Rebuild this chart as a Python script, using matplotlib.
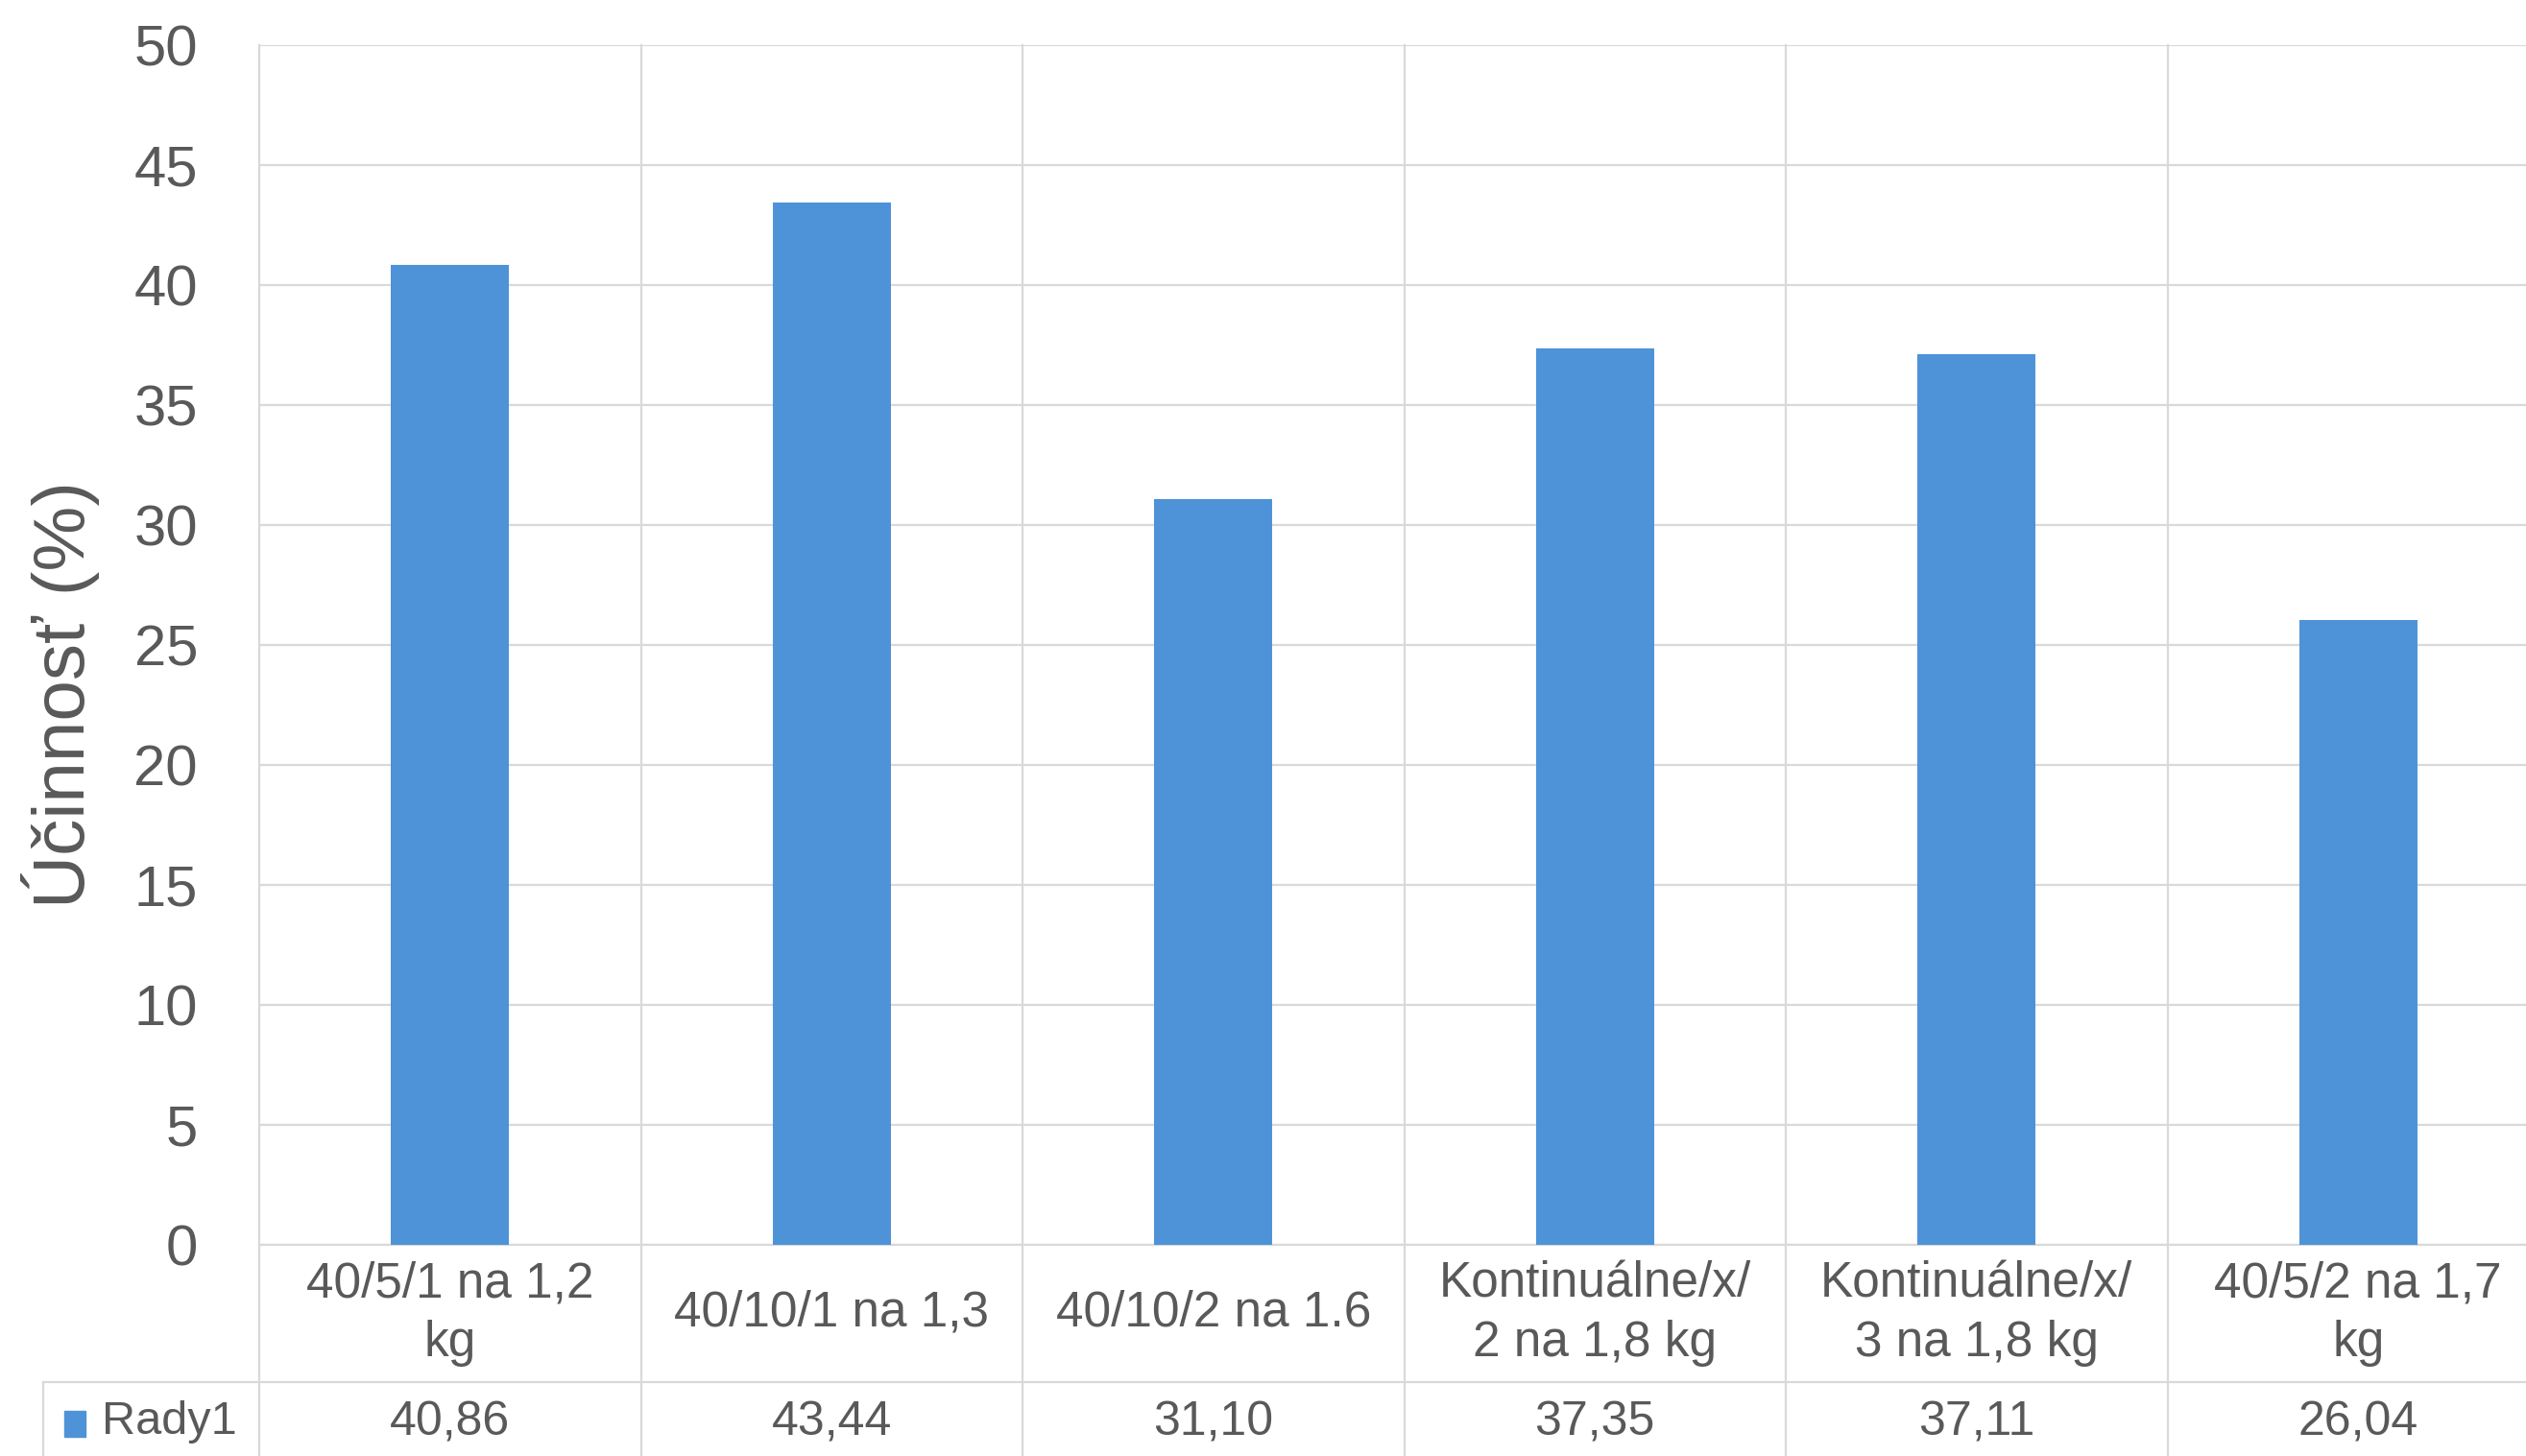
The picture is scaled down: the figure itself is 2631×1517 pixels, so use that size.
import matplotlib
matplotlib.use('Agg')
import matplotlib.pyplot as plt
import matplotlib.transforms as mtransforms
from matplotlib import font_manager
from matplotlib.patches import Rectangle

# dáta grafu
kategorie = ['40/5/1 na 1,2\nkg', '40/10/1 na 1,3', '40/10/2 na 1.6',
             'Kontinuálne/x/\n2 na 1,8 kg', 'Kontinuálne/x/\n3 na 1,8 kg', '40/5/2 na 1,7\nkg']
ucinnost = [40.86, 43.44, 31.10, 37.35, 37.11, 26.04]
nazov_radu = 'Rady1'
y_ticky = [0, 5, 10, 15, 20, 25, 30, 35, 40, 45, 50]

FARBA_STLPEC = '#4E93D8'
FARBA_MRIEZKA = '#D9D9D9'
FARBA_TEXT = '#595959'

names = {f.name for f in font_manager.fontManager.ttflist}
TAB_FONT = 'Liberation Sans Narrow' if 'Liberation Sans Narrow' in names else 'Liberation Sans'
plt.rcParams['font.family'] = ['Liberation Sans', 'DejaVu Sans']

W, H = 2631, 1517
fig = plt.figure(figsize=(W / 100, H / 100), dpi=100)
fig.patch.set_facecolor('white')

left_px, top_px, zero_px, col_px = 270, 47, 1297, 397.5
ax = fig.add_axes([left_px / W, (H - zero_px) / H, 6 * col_px / W, (zero_px - top_px) / H])

x = list(range(len(kategorie)))
ax.bar(x, ucinnost, width=0.31, color=FARBA_STLPEC, zorder=3)

ax.set_xlim(-0.5, len(kategorie) - 0.5)
ax.set_ylim(0, 50)
ax.set_yticks(y_ticky)
ax.set_xticks([])
ax.tick_params(axis='y', length=0, pad=46, labelsize=43, labelcolor=FARBA_TEXT)
for s in ax.spines.values():
    s.set_visible(False)
ax.yaxis.grid(True, color=FARBA_MRIEZKA, linewidth=1.6, zorder=0)
ax.set_axisbelow(True)
ax.set_ylabel('Účinnosť (%)', fontsize=55, color=FARBA_TEXT)
ax.yaxis.set_label_coords(-(270 - 104) / (6 * col_px), 0.459)

# tabuľka údajov pod grafom
tr = mtransforms.blended_transform_factory(ax.transData, ax.transAxes)
px = 1.0 / (zero_px - top_px)
y_cat_bot = -(1440 - zero_px) * px
y_ser_mid = -(1482 - zero_px) * px
y_tab_bot = -0.25
x_leg = -0.5 - (left_px - 45) / col_px

lk = dict(color=FARBA_MRIEZKA, linewidth=1.6, transform=tr, clip_on=False, zorder=1)
for i in range(len(kategorie) + 1):
    ax.plot([i - 0.5, i - 0.5], [1, y_tab_bot], **lk)
ax.plot([-0.5, len(kategorie) - 0.5], [0, 0], **lk)
ax.plot([x_leg, len(kategorie) - 0.5], [y_cat_bot, y_cat_bot], **lk)
ax.plot([x_leg, x_leg], [y_cat_bot, y_tab_bot], **lk)

for i, (k, v) in enumerate(zip(kategorie, ucinnost)):
    ax.text(i, y_cat_bot / 2, k, transform=tr, ha='center', va='center',
            fontsize=37, color=FARBA_TEXT, family=TAB_FONT, linespacing=1.32)
    ax.text(i, y_ser_mid, f'{v:.2f}'.replace('.', ','), transform=tr,
            ha='center', va='center', fontsize=36, color=FARBA_TEXT, family=TAB_FONT)

# legenda v tabuľke
fig.patches.append(Rectangle((67 / W, (H - 1497) / H), 22 / W, 27 / H,
                             transform=fig.transFigure, color=FARBA_STLPEC))
fig.text(106 / W, (H - 1482) / H, nazov_radu, ha='left', va='center',
         fontsize=35, color=FARBA_TEXT, family=TAB_FONT)

fig.savefig('out.png', dpi=100)
